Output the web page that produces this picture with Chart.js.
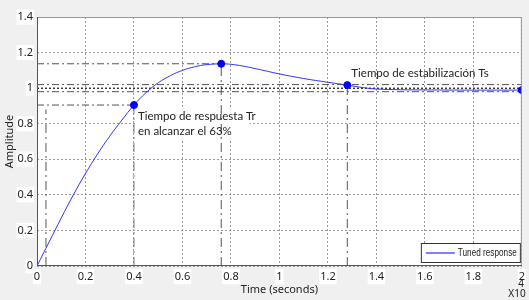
<!DOCTYPE html>
<html>
<head>
<meta charset="utf-8">
<script src="https://cdn.jsdelivr.net/npm/chart.js@4/dist/chart.umd.min.js"></script>
<style>
  html, body { margin: 0; padding: 0; background: #f0f0f0; }
  #wrap { width: 529px; height: 300px; }
</style>
</head>
<body>
<div id="wrap"><canvas id="stepCanvas" width="529" height="300"></canvas></div>
<script>
// step response (time in x10^4 s, amplitude)
var timeVals = [0, 0.05, 0.1, 0.15, 0.2, 0.25, 0.3, 0.35, 0.4, 0.45, 0.5, 0.55, 0.6, 0.65, 0.7, 0.76, 0.8, 0.85, 0.9, 1.0, 1.1, 1.2, 1.28, 1.35, 1.4, 1.5, 1.6, 1.8, 2.0];
var ampVals = [0, 0.135, 0.27, 0.40, 0.52, 0.63, 0.73, 0.82, 0.905, 0.975, 1.03, 1.07, 1.10, 1.12, 1.132, 1.137, 1.134, 1.124, 1.11, 1.08, 1.054, 1.033, 1.017, 1.002, 0.995, 0.991, 0.99, 0.989, 0.989];

// marked points: rise time, peak, settling time, final value
var markTime = [0.4, 0.76, 1.28, 2.0];
var markAmp = [0.905, 1.137, 1.017, 0.989];

var finalValue = 1.0;
var bandUpper = 1.02;
var bandLower = 0.98;
var riseStartTime = 0.037;
var riseStartAmp = 0.88;

var xTicks = [0, 0.2, 0.4, 0.6, 0.8, 1, 1.2, 1.4, 1.6, 1.8, 2];
var yTicks = [0, 0.2, 0.4, 0.6, 0.8, 1, 1.2, 1.4];

var legendLabel = "Tuned response";
var riseText = ["Tiempo de respuesta Tr", "en alcanzar el 63%"];
var settleText = "Tiempo de estabilización Ts";

var curve = timeVals.map(function (t, i) { return { x: t, y: ampVals[i] }; });
var marks = markTime.map(function (t, i) { return { x: t, y: markAmp[i] }; });

var dashDot = [7, 3, 2, 3];
function refLine(pts, color, dash) {
    return {
        data: pts, showLine: true, pointRadius: 0, borderColor: color,
        borderWidth: 1, borderDash: dash, fill: false, tension: 0
    };
}

var refs = [
    refLine([{ x: 0, y: bandUpper }, { x: 2, y: bandUpper }], "#555", dashDot),
    refLine([{ x: 0, y: bandLower }, { x: 2, y: bandLower }], "#555", dashDot),
    refLine([{ x: 0, y: finalValue }, { x: 2, y: finalValue }], "#000", [2, 2]),
    refLine([{ x: 0, y: markAmp[0] }, { x: markTime[0], y: markAmp[0] }], "#555", dashDot),
    refLine([{ x: 0, y: markAmp[1] }, { x: markTime[1], y: markAmp[1] }], "#555", dashDot),
    refLine([{ x: riseStartTime, y: 0 }, { x: riseStartTime, y: riseStartAmp }], "#555", [9, 4, 2, 4]),
    refLine([{ x: markTime[0], y: 0 }, { x: markTime[0], y: markAmp[0] }], "#777", [9, 4, 2, 4]),
    refLine([{ x: markTime[1], y: 0 }, { x: markTime[1], y: markAmp[1] }], "#555", [9, 4, 2, 4]),
    refLine([{ x: markTime[2], y: 0 }, { x: markTime[2], y: markAmp[2] }], "#555", [9, 4, 2, 4])
];

var txtFont = "11.5px Lato, 'Noto Sans', sans-serif";

// white plot area, outer box, annotations, legend, x10^4 exponent
var decor = {
    id: "decor",
    beforeDraw: function (chart) {
        var a = chart.chartArea, c = chart.ctx;
        c.save();
        c.fillStyle = "#f0f0f0";
        c.fillRect(0, 0, chart.width, chart.height);
        c.fillStyle = "#fff";
        c.fillRect(a.left, a.top, a.right - a.left, a.bottom - a.top);
        c.restore();
    },
    beforeDatasetsDraw: function (chart) {
        var xs = chart.scales.x, ys = chart.scales.y, c = chart.ctx;
        c.save();
        c.fillStyle = "#fff";
        var rx = xs.getPixelForValue(markTime[0]) + 2;
        var ry = ys.getPixelForValue(markAmp[0]) + 3;
        c.fillRect(rx, ry, 114, 31);
        c.restore();
    },
    afterDatasetsDraw: function (chart) {
        var a = chart.chartArea, xs = chart.scales.x, ys = chart.scales.y, c = chart.ctx;
        c.save();
        c.strokeStyle = "#999";
        c.lineWidth = 1;
        c.beginPath();
        c.moveTo(a.left, a.top + 0.5); c.lineTo(a.right - 0.5, a.top + 0.5); c.lineTo(a.right - 0.5, a.bottom);
        c.stroke();
        c.strokeStyle = "#555";
        c.beginPath();
        c.moveTo(a.left + 0.5, a.top); c.lineTo(a.left + 0.5, a.bottom - 0.5); c.lineTo(a.right, a.bottom - 0.5);
        c.stroke();

        c.fillStyle = "#222";
        c.font = txtFont;
        c.textBaseline = "middle";
        c.textAlign = "left";
        var tx = xs.getPixelForValue(markTime[0]) + 4;
        var ty = ys.getPixelForValue(markAmp[0]);
        c.fillText(riseText[0], tx, ty + 11);
        c.fillText(riseText[1], tx, ty + 26);
        c.fillText(settleText, xs.getPixelForValue(markTime[2]) + 4, ys.getPixelForValue(markAmp[2]) - 12);

        // legend
        var lx = a.right - 101, ly = a.bottom - 23;
        c.fillStyle = "#fff";
        c.fillRect(lx, ly, 100, 19);
        c.strokeStyle = "#333";
        c.strokeRect(lx + 0.5, ly + 0.5, 99, 19);
        c.strokeStyle = "#0000ff";
        c.beginPath(); c.moveTo(lx + 5, ly + 10); c.lineTo(lx + 34, ly + 10); c.stroke();
        c.fillStyle = "#222";
        c.font = "10px 'Liberation Sans', Arial, sans-serif";
        c.save();
        c.translate(lx + 37, ly + 10);
        c.scale(0.82, 1);
        c.fillText(legendLabel, 0, 0);
        c.restore();

        // exponent
        c.font = "10px 'Noto Sans', sans-serif";
        c.textAlign = "center";
        c.fillText("4", 521, 284);
        c.fillText("X10", 517, 294);
        c.restore();
    }
};

var ctx = document.getElementById("stepCanvas");
var stepChart = new Chart(ctx, {
    type: "scatter",
    data: {
        datasets: [
            {
                label: "marks", data: marks, showLine: false, pointRadius: 3.5,
                pointBackgroundColor: "#0000ff", pointBorderColor: "#0000ff"
            },
            {
                label: legendLabel, data: curve, showLine: true, pointRadius: 0,
                borderColor: "#3333ff", borderWidth: 1, tension: 0.4, fill: false
            }
        ].concat(refs)
    },
    options: {
        responsive: false,
        animation: false,
        layout: { padding: { left: 0, top: 17, right: 5, bottom: 0 } },
        plugins: { legend: { display: false }, tooltip: { enabled: false } },
        scales: {
            x: {
                type: "linear", min: 0, max: 2,
                afterBuildTicks: function (s) { s.ticks = xTicks.map(function (v) { return { value: v }; }); },
                afterFit: function (s) { s.height = 34; },
                grid: { color: "#999", lineWidth: 1, drawTicks: false },
                border: { display: false, dash: [2, 2] },
                ticks: {
                    padding: 4, color: "#222", maxRotation: 0,
                    font: { family: "'Noto Sans', sans-serif", size: 11 },
                    showLabelBackdrop: true, backdropColor: "#fff", backdropPadding: 1,
                    callback: function (v) { return String(Math.round(v * 10) / 10); }
                },
                title: {
                    display: true, text: "Time (seconds)", color: "#222",
                    font: { family: "'Noto Sans', sans-serif", size: 11 }, padding: { top: 0, bottom: 4 }
                }
            },
            y: {
                type: "linear", min: 0, max: 1.4,
                afterBuildTicks: function (s) { s.ticks = yTicks.map(function (v) { return { value: v }; }); },
                afterFit: function (s) { s.width = 37; },
                grid: { color: "#999", lineWidth: 1, drawTicks: false },
                border: { display: false, dash: [2, 2] },
                ticks: {
                    padding: 4, color: "#222",
                    font: { family: "'Noto Sans', sans-serif", size: 11 },
                    showLabelBackdrop: true, backdropColor: "#fff", backdropPadding: 1,
                    callback: function (v) { return String(Math.round(v * 10) / 10); }
                },
                title: {
                    display: true, text: "Amplitude", color: "#222",
                    font: { family: "'Noto Sans', sans-serif", size: 11 }, padding: { top: 3, bottom: 0 }
                }
            }
        }
    },
    plugins: [decor]
});
</script>
</body>
</html>
